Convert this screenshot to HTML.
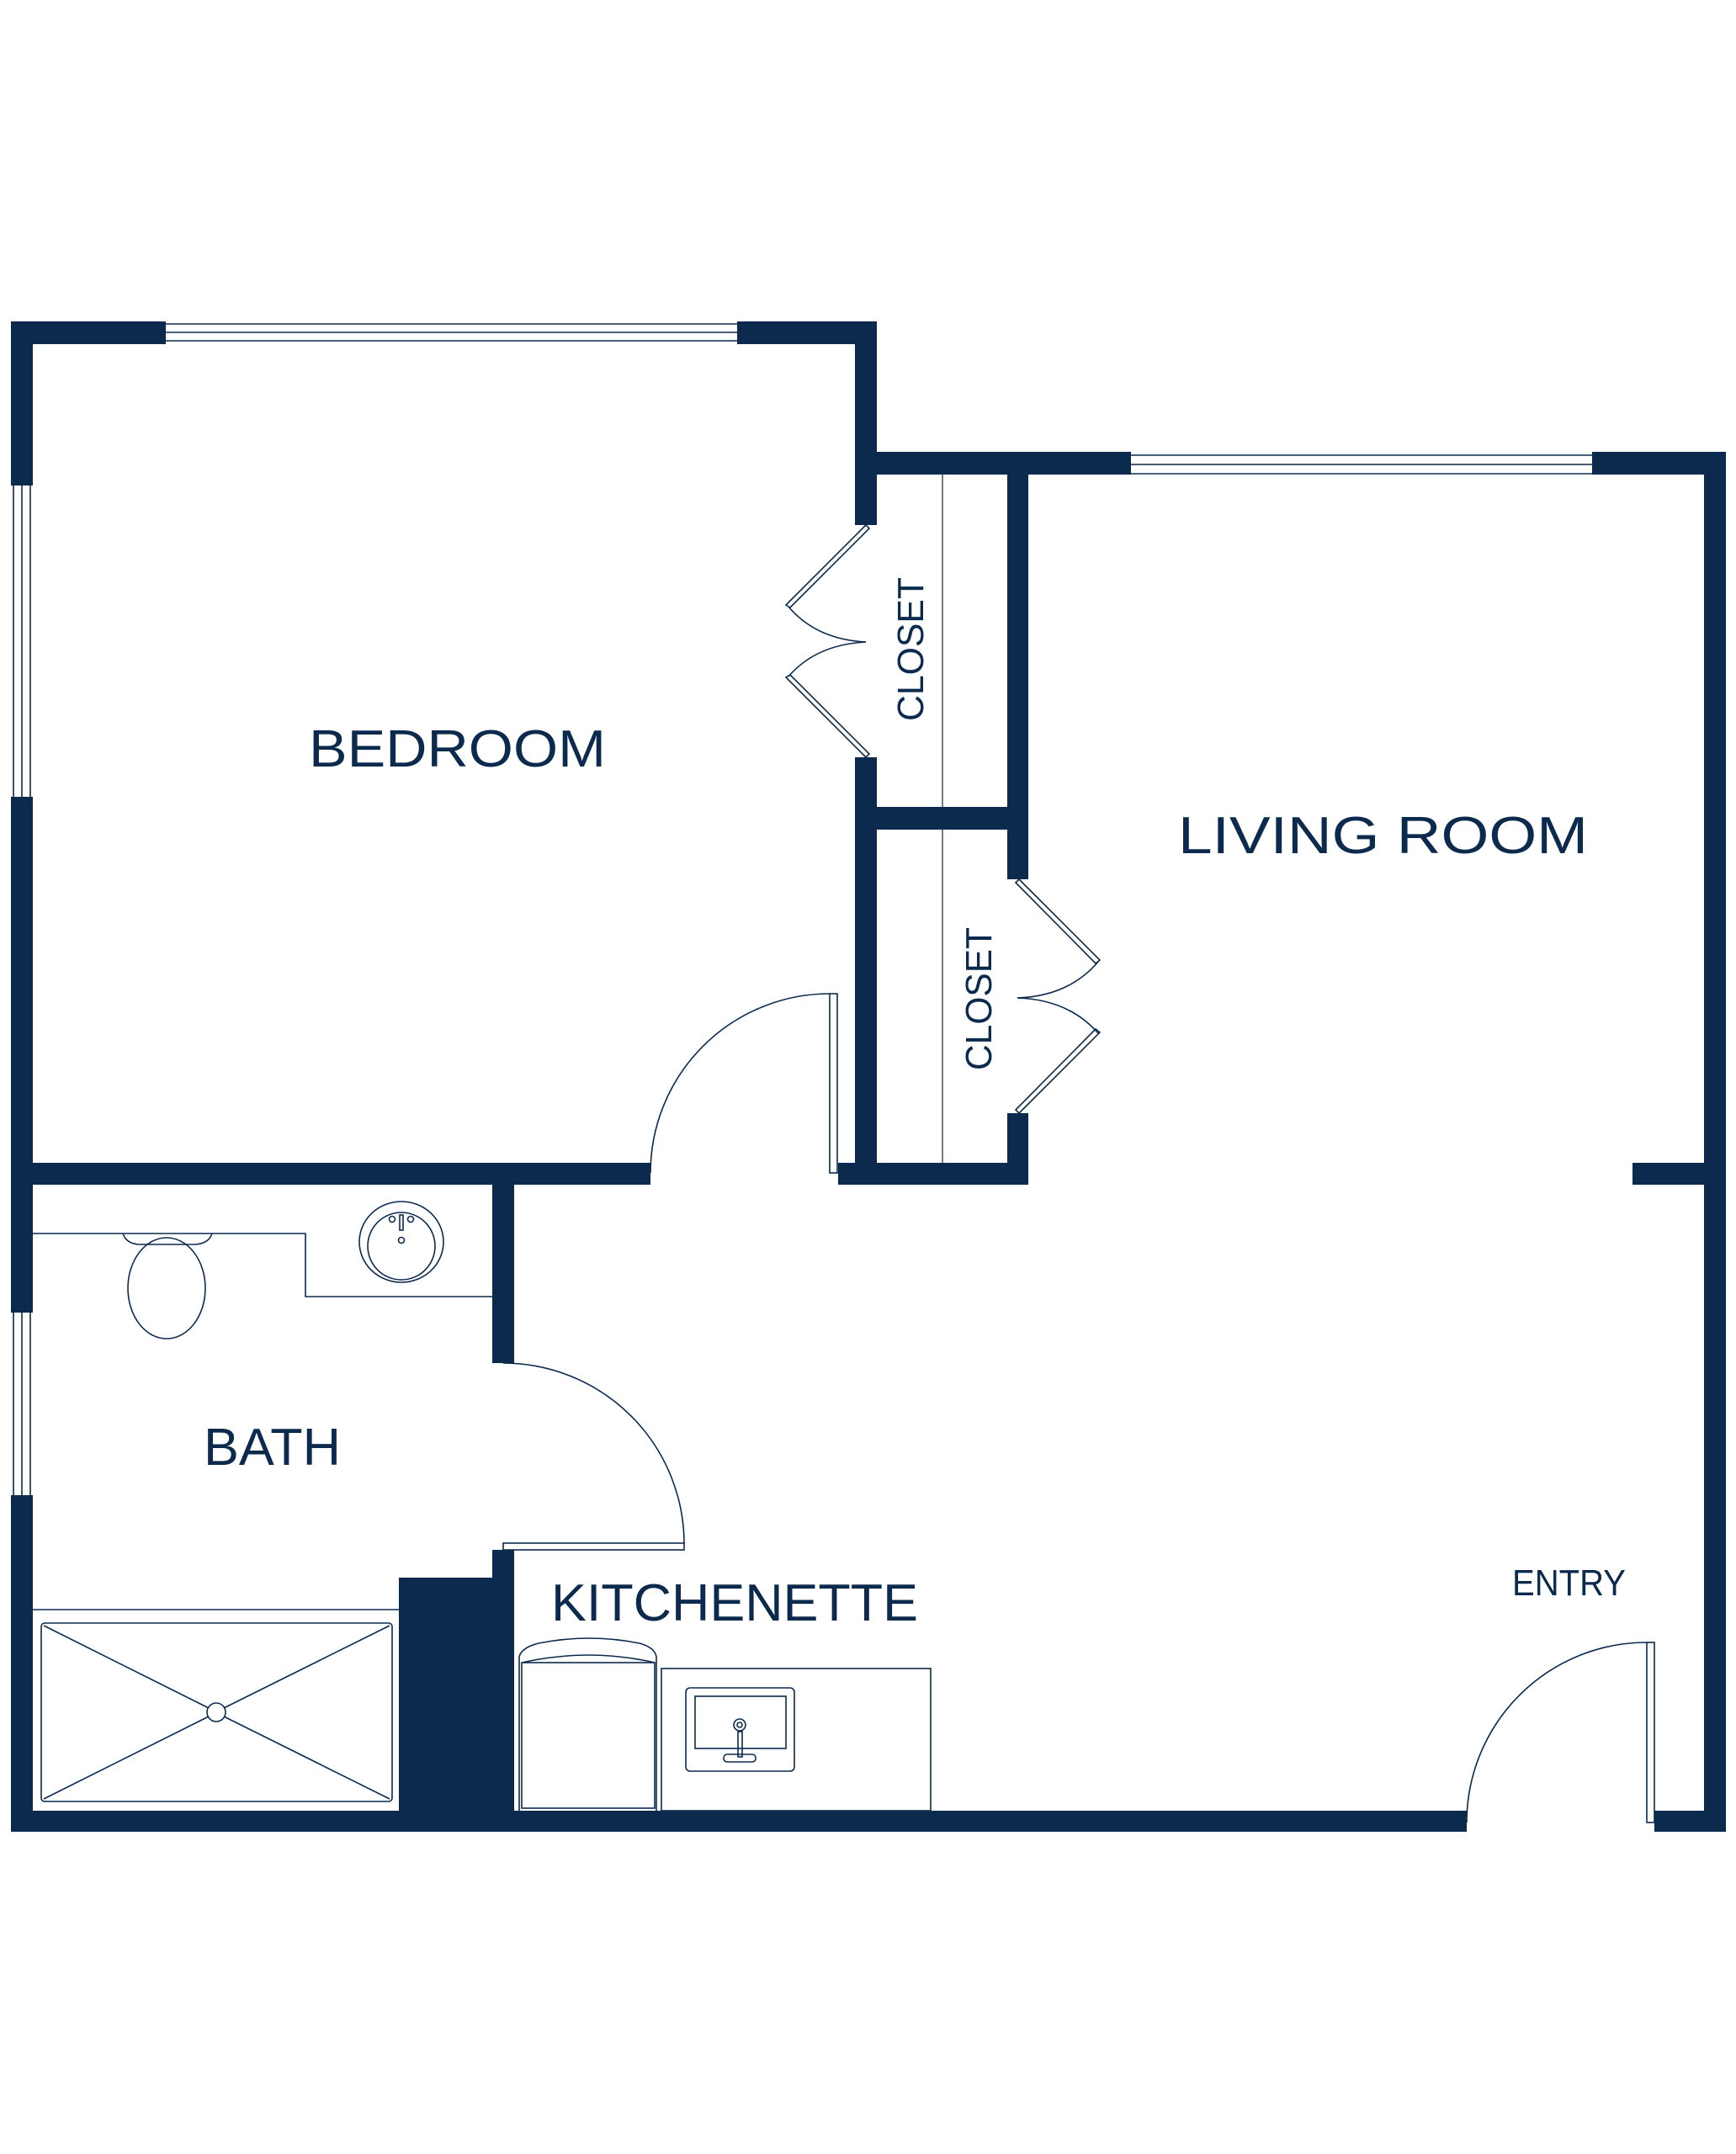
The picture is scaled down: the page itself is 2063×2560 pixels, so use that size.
<!DOCTYPE html>
<html><head><meta charset="utf-8"><style>
html,body{margin:0;padding:0;background:#fff;}
svg{display:block;}
text{font-family:"Liberation Sans",sans-serif;fill:#0b2a4e;}
</style></head><body>
<svg width="2063" height="2560" viewBox="0 0 2063 2560" xmlns="http://www.w3.org/2000/svg">
<g fill="#0b2a4e" stroke="none">
<!-- bedroom top wall -->
<rect x="13" y="382" width="184" height="27"/>
<rect x="876" y="382" width="166" height="27"/>
<!-- left outer wall -->
<rect x="13" y="382" width="26" height="195"/>
<rect x="13" y="947" width="26" height="613"/>
<rect x="13" y="1777" width="26" height="400"/>
<!-- bedroom right wall -->
<rect x="1016" y="382" width="26" height="242"/>
<rect x="1016" y="900" width="26" height="508"/>
<!-- living top wall -->
<rect x="1016" y="537" width="328" height="27"/>
<rect x="1892" y="537" width="159" height="27"/>
<!-- right outer -->
<rect x="2025" y="537" width="26" height="1640"/>
<rect x="1940" y="1382" width="90" height="26"/>
<!-- inner closet wall -->
<rect x="1197" y="549" width="25" height="496"/>
<rect x="1197" y="1323" width="25" height="85"/>
<rect x="1016" y="959" width="206" height="27"/>
<rect x="996" y="1382" width="226" height="26"/>
<!-- bedroom bottom wall -->
<rect x="13" y="1382" width="760" height="26"/>
<!-- bath/kitchen wall -->
<rect x="585" y="1400" width="26" height="220"/>
<rect x="585" y="1842" width="26" height="335"/>
<rect x="474" y="1875" width="137" height="302"/>
<!-- bottom wall -->
<rect x="13" y="2152" width="1730" height="25"/>
<rect x="1966" y="2152" width="85" height="25"/>
</g>
<g fill="none" stroke="#0b2a4e" stroke-width="1.6">
<!-- windows -->
<line x1="197" y1="385" x2="876" y2="385"/><line x1="197" y1="395" x2="876" y2="395"/><line x1="197" y1="405" x2="876" y2="405"/>
<line x1="1344" y1="541" x2="1892" y2="541"/><line x1="1344" y1="552" x2="1892" y2="552"/><line x1="1344" y1="563" x2="1892" y2="563"/>
<line x1="16" y1="577" x2="16" y2="947"/><line x1="26" y1="577" x2="26" y2="947"/><line x1="36" y1="577" x2="36" y2="947"/>
<line x1="16" y1="1560" x2="16" y2="1777"/><line x1="26" y1="1560" x2="26" y2="1777"/><line x1="36" y1="1560" x2="36" y2="1777"/>
<!-- closet center line -->
<line x1="1120" y1="562" x2="1120" y2="1382" stroke-width="1.2"/>
<!-- bedroom door -->
<path d="M773 1394 A213 213 0 0 1 986 1181"/>
<rect x="986" y="1181" width="9" height="213"/>
<!-- bath door -->
<path d="M598 1620 A215 215 0 0 1 813 1835"/>
<rect x="598" y="1834" width="215" height="8"/>
<!-- entry door -->
<path d="M1743 2166 A214 214 0 0 1 1957 1952"/>
<rect x="1957" y="1952" width="9" height="214"/>
<!-- bedroom closet bifold -->
<path d="M1029 624 L934 719 L939 722 L1033 628 Z"/>
<path d="M937 721 Q970 760 1029 763"/>
<path d="M1029 763 Q970 766 937 804"/>
<path d="M1029 900 L934 805 L939 802 L1033 896 Z"/>
<!-- living closet bifold -->
<path d="M1211 1045 L1307 1141 L1302 1145 L1207 1049 Z"/>
<path d="M1305 1143 Q1270 1184 1209 1186"/>
<path d="M1209 1186 Q1270 1188 1305 1228"/>
<path d="M1211 1323 L1307 1227 L1302 1223 L1207 1319 Z"/>
<!-- bath counter -->
<path d="M38 1466 L363 1466 L363 1541 L585 1541"/>
<!-- toilet -->
<path d="M146 1466 Q150 1478 165 1479 L232 1479 Q248 1478 252 1466"/>
<ellipse cx="198" cy="1531" rx="46" ry="60"/>
<!-- bath sink -->
<ellipse cx="477" cy="1476" rx="50" ry="48"/>
<circle cx="477" cy="1481" r="40"/>
<rect x="475" y="1444" width="4" height="18"/>
<circle cx="466" cy="1449" r="3.5"/><circle cx="488" cy="1449" r="3.5"/>
<circle cx="477" cy="1474" r="3.5"/>
<!-- shower -->
<line x1="38" y1="1913" x2="474" y2="1913"/>
<rect x="49" y="1929" width="417" height="212" rx="4"/>
<circle cx="257" cy="2035" r="11"/>
<line x1="52" y1="1932" x2="248" y2="2030"/><line x1="463" y1="1932" x2="266" y2="2030"/>
<line x1="52" y1="2138" x2="248" y2="2040"/><line x1="463" y1="2138" x2="266" y2="2040"/>
<!-- kitchen range/fridge -->
<path d="M617 2152 L617 1969 Q620 1958 640 1953 Q700 1941 760 1953 Q778 1958 780 1969 L780 2152"/>
<path d="M620 1976 Q700 1958 778 1976"/>
<rect x="620" y="1976" width="158" height="173"/>
<!-- counter -->
<rect x="786" y="1983" width="320" height="169"/>
<rect x="815" y="2006" width="129" height="99" rx="5"/>
<rect x="826" y="2016" width="108" height="62"/>
<circle cx="879" cy="2050" r="7"/><circle cx="879" cy="2050" r="3"/>
<rect x="877" y="2058" width="5" height="30"/>
<rect x="860" y="2085" width="38" height="9" rx="4"/>
</g>
<g>
<text x="367" y="911" font-size="62" textLength="353" lengthAdjust="spacingAndGlyphs">BEDROOM</text>
<text x="1400" y="1014" font-size="62" textLength="487" lengthAdjust="spacingAndGlyphs">LIVING ROOM</text>
<text x="242" y="1741" font-size="62" textLength="163" lengthAdjust="spacingAndGlyphs">BATH</text>
<text x="655" y="1926" font-size="62" textLength="436" lengthAdjust="spacingAndGlyphs">KITCHENETTE</text>
<text x="1797" y="1896" font-size="44" textLength="135" lengthAdjust="spacingAndGlyphs">ENTRY</text>
<text transform="translate(1097,857) rotate(-90)" font-size="44" textLength="171" lengthAdjust="spacingAndGlyphs">CLOSET</text>
<text transform="translate(1178,1272) rotate(-90)" font-size="44" textLength="170" lengthAdjust="spacingAndGlyphs">CLOSET</text>
</g>
</svg>
</body></html>
